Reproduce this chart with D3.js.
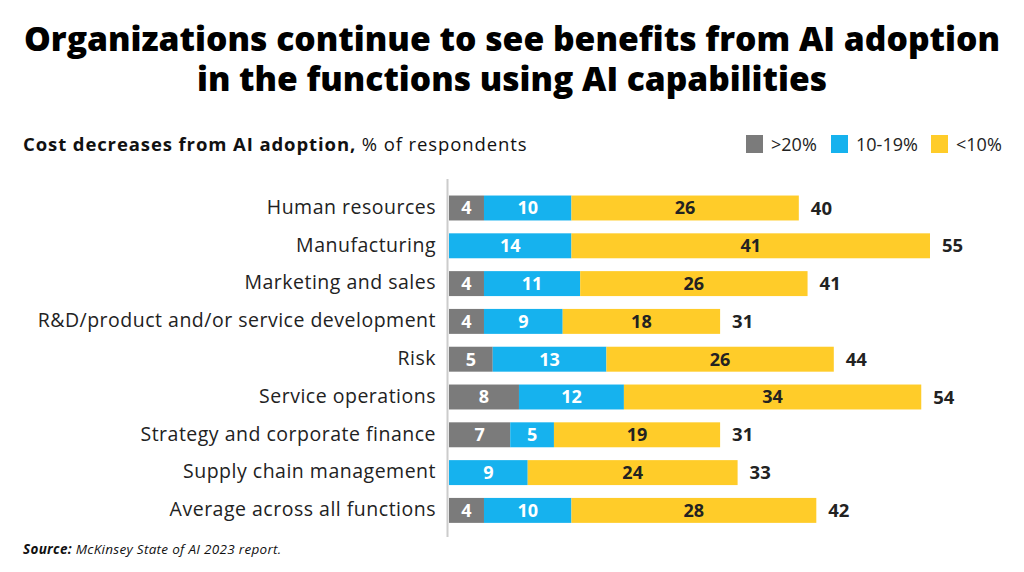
<!DOCTYPE html>
<html>
<head>
<meta charset="utf-8">
<script src="https://cdn.jsdelivr.net/npm/d3@7"></script>
<style>
  html, body { margin: 0; padding: 0; background: #fff; }
  svg { display: block; font-family: "Open Sans", "Noto Sans", sans-serif; }
</style>
</head>
<body>
<svg id="chart" width="1024" height="572"></svg>
<script>
const categories = [
  "Human resources",
  "Manufacturing",
  "Marketing and sales",
  "R&D/product and/or service development",
  "Risk",
  "Service operations",
  "Strategy and corporate finance",
  "Supply chain management",
  "Average across all functions"
];
const over20 = [4, 0, 4, 4, 5, 8, 7, 0, 4];
const from10to19 = [10, 14, 11, 9, 13, 12, 5, 9, 10];
const under10 = [26, 41, 26, 18, 26, 34, 19, 24, 28];
const seriesNames = [">20%", "10-19%", "<10%"];
const seriesColors = ["#7b7b7b", "#16b2ee", "#ffcc29"];
const labelColors = ["#ffffff", "#ffffff", "#222222"];

const titleLines = [
  "Organizations continue to see benefits from AI adoption",
  "in the functions using AI capabilities"
];

const svg = d3.select("#chart");

// Title
svg.append("text").attr("x", 512).attr("y", 51).attr("text-anchor", "middle")
  .attr("font-size", 33).attr("font-weight", 800).attr("fill", "#000")
  .attr("textLength", 976).attr("lengthAdjust", "spacingAndGlyphs")
  .text(titleLines[0]);
svg.append("text").attr("x", 512).attr("y", 91).attr("text-anchor", "middle")
  .attr("font-size", 33).attr("font-weight", 800).attr("fill", "#000")
  .attr("textLength", 630).attr("lengthAdjust", "spacingAndGlyphs")
  .text(titleLines[1]);

// Subtitle
const sub = svg.append("text").attr("x", 23).attr("y", 151).attr("font-size", 18.5).attr("fill", "#111")
  .attr("letter-spacing", 0.9);
sub.append("tspan").attr("font-weight", 700).text("Cost decreases from AI adoption,");
sub.append("tspan").attr("font-weight", 400).text(" % of respondents");

// Legend
const legendX = [746, 831, 931];
seriesNames.forEach((n, i) => {
  svg.append("rect").attr("x", legendX[i]).attr("y", 135).attr("width", 17).attr("height", 18)
    .attr("fill", seriesColors[i]);
  svg.append("text").attr("x", legendX[i] + 25).attr("y", 151).attr("font-size", 18)
    .attr("fill", "#222").text(n);
});

// Data
const rows = categories.map((c, i) => ({ cat: c, v: [over20[i], from10to19[i], under10[i]] }));
const stack = d3.stack().keys([0, 1, 2]).value((d, k) => d.v[k]);
const stacked = stack(rows);

const x = d3.scaleLinear().domain([0, 55]).range([449, 930]);
const y = d3.scaleBand().domain(categories).range([189.1, 529.3]).paddingInner(0.34).paddingOuter(0.17);

// Axis line
svg.append("line").attr("x1", 447.5).attr("x2", 447.5).attr("y1", 179).attr("y2", 537)
  .attr("stroke", "#cccccc").attr("stroke-width", 2);

// Category labels
const yAxis = d3.axisLeft(y).tickSize(0).tickPadding(0);
const gy = svg.append("g").attr("transform", "translate(436,0)").call(yAxis);
gy.select(".domain").remove();
gy.selectAll("text").attr("font-size", 19.5).attr("fill", "#222")
  .attr("letter-spacing", 0.5)
  .attr("font-family", "'Open Sans', sans-serif").attr("dy", "0.3em");

// Bars
stacked.forEach((layer, k) => {
  const g = svg.append("g");
  layer.forEach((d, i) => {
    if (d[1] - d[0] <= 0) return;
    g.append("rect")
      .attr("x", x(d[0])).attr("y", y(categories[i]))
      .attr("width", x(d[1]) - x(d[0])).attr("height", y.bandwidth())
      .attr("fill", seriesColors[k]);
    g.append("text")
      .attr("x", (x(d[0]) + x(d[1])) / 2)
      .attr("y", y(categories[i]) + y.bandwidth() / 2)
      .attr("dy", "0.36em").attr("text-anchor", "middle")
      .attr("font-size", 18).attr("font-weight", 700).attr("fill", labelColors[k])
      .text(d[1] - d[0]);
  });
});

// Totals
rows.forEach((r) => {
  const t = d3.sum(r.v);
  svg.append("text").attr("x", x(t) + 12).attr("y", y(r.cat) + y.bandwidth() / 2)
    .attr("dy", "0.36em").attr("font-size", 18.5).attr("font-weight", 700).attr("fill", "#222")
    .text(t);
});

// Source
const src = svg.append("text").attr("x", 23).attr("y", 554).attr("font-size", 13.5).attr("font-style", "italic").attr("fill", "#111")
  .attr("letter-spacing", 0.3);
src.append("tspan").attr("font-weight", 700).text("Source:");
src.append("tspan").text(" McKinsey State of AI 2023 report.");
</script>
</body>
</html>
